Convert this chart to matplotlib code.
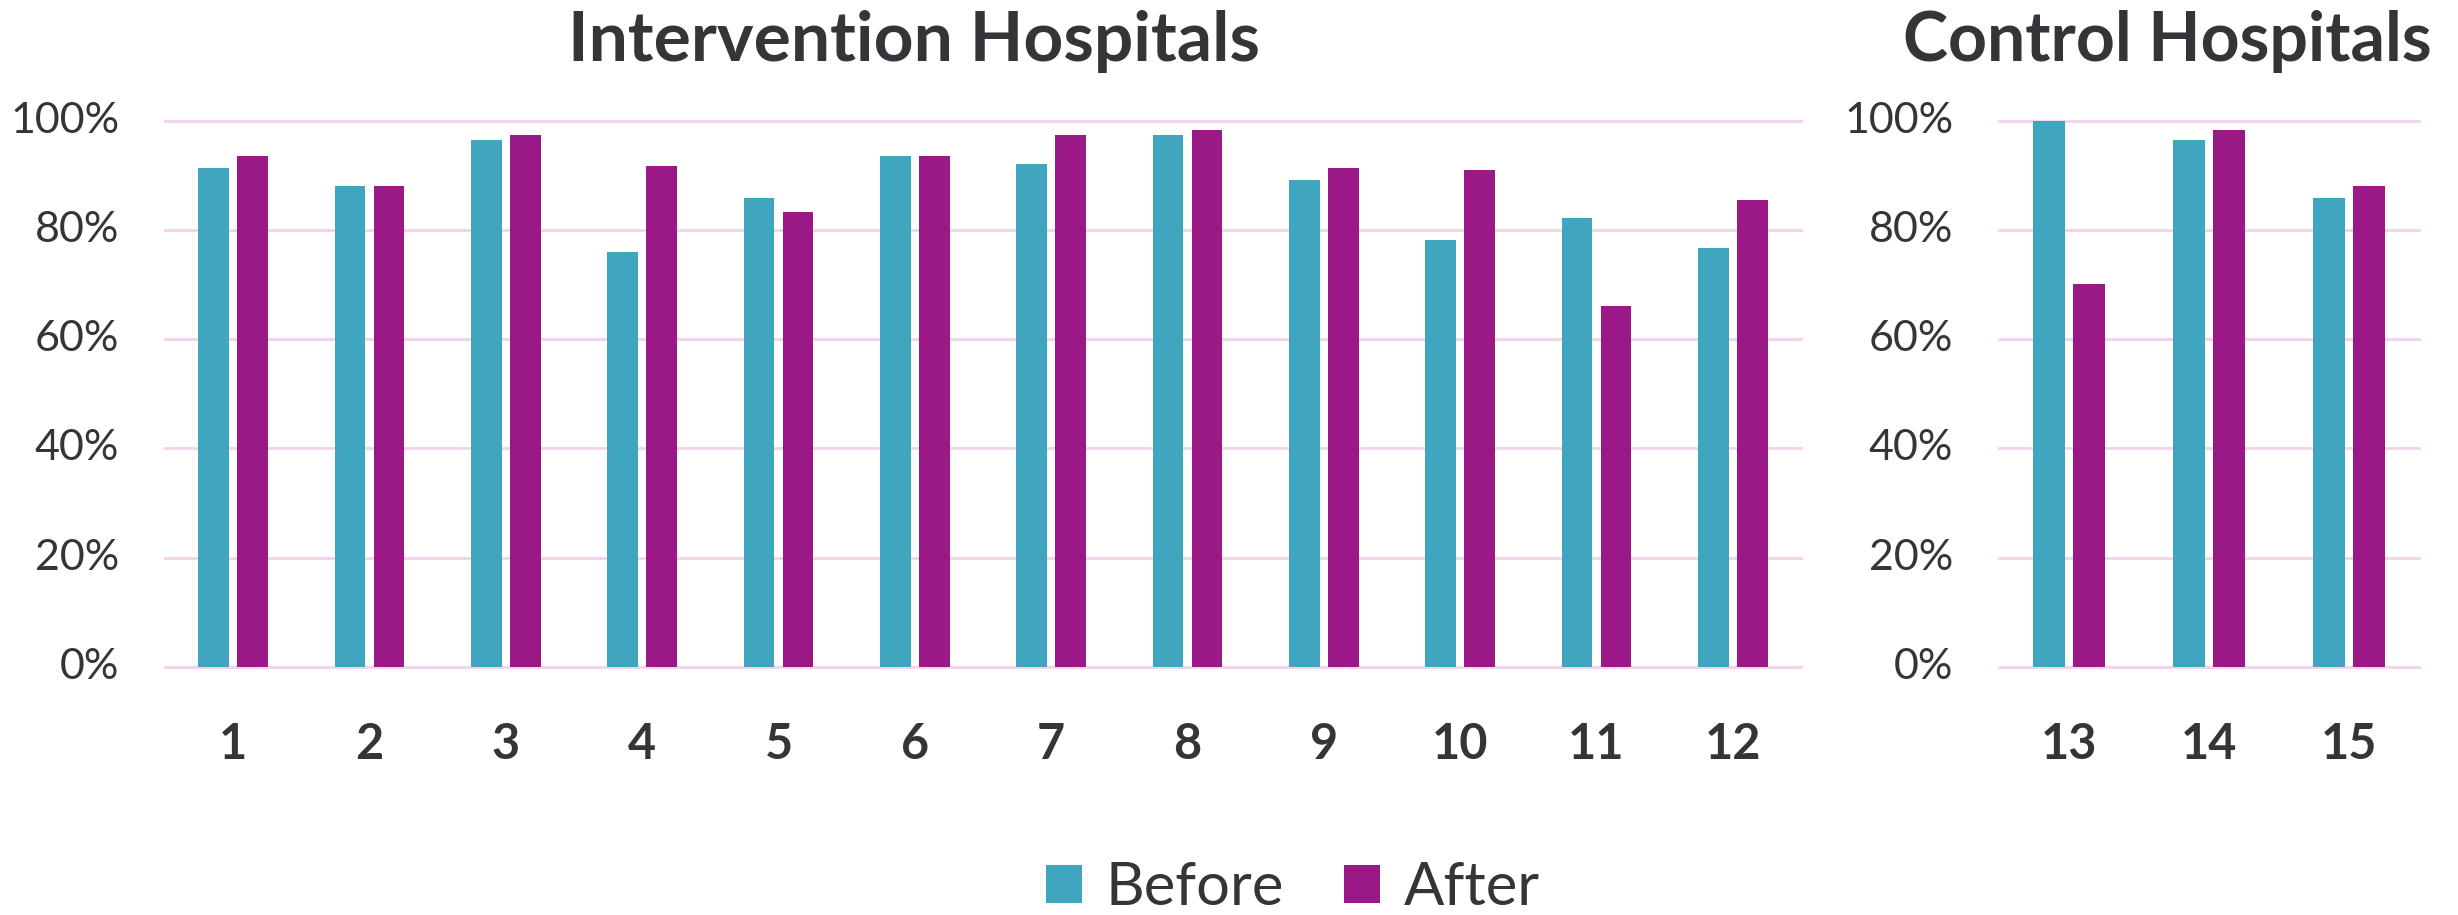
import matplotlib
matplotlib.use("Agg")
import matplotlib.pyplot as plt
from matplotlib.patches import Patch
import numpy as np

# ---- data ----
interv_labels = ["1", "2", "3", "4", "5", "6", "7", "8", "9", "10", "11", "12"]
interv_before = [0.914, 0.881, 0.965, 0.760, 0.859, 0.936, 0.921, 0.973, 0.892, 0.782, 0.822, 0.767]
interv_after = [0.936, 0.881, 0.973, 0.917, 0.833, 0.936, 0.973, 0.983, 0.914, 0.910, 0.661, 0.855]

ctrl_labels = ["13", "14", "15"]
ctrl_before = [0.999, 0.965, 0.859]
ctrl_after = [0.701, 0.983, 0.881]

y_ticks = [0, 0.2, 0.4, 0.6, 0.8, 1.0]
y_tick_labels = ["0%", "20%", "40%", "60%", "80%", "100%"]
series_names = ["Before", "After"]

# ---- style ----
C_BEFORE = "#40A6BF"
C_AFTER = "#9B1987"
C_GRID = "#F2D2EC"
C_TEXT = "#333538"
FONT = ["Lato", "DejaVu Sans"]
plt.rcParams["font.family"] = FONT

W, H = 2458, 915
fig = plt.figure(figsize=(W / 100, H / 100), dpi=100)

def px_axes(x0, x1, ytop, ybot):
    return fig.add_axes([x0 / W, 1 - ybot / H, (x1 - x0) / W, (ybot - ytop) / H])

ax1 = px_axes(165, 1801, 120.7, 666.7)
ax2 = px_axes(1999, 2419, 120.7, 666.7)

BW = 0.225
OFF = 0.143

def draw(ax, labels, before, after):
    x = np.arange(len(labels))
    ax.bar(x - OFF, before, width=BW, color=C_BEFORE, zorder=2)
    ax.bar(x + OFF, after, width=BW, color=C_AFTER, zorder=2)
    ax.set_xlim(-0.5, len(labels) - 0.5)
    ax.set_ylim(0, 1.0)
    for t in y_ticks:
        ax.axhline(t, color=C_GRID, lw=2, zorder=1, clip_on=False)
    for s in ax.spines.values():
        s.set_visible(False)
    ax.set_xticks(x)
    ax.set_xticklabels(labels, fontsize=35, fontweight="bold", color=C_TEXT)
    ax.set_yticks(y_ticks)
    ax.set_yticklabels(y_tick_labels, fontsize=31, color=C_TEXT, va="center")
    ax.tick_params(axis="x", length=0, pad=40)
    ax.tick_params(axis="y", length=0, pad=33)

draw(ax1, interv_labels, interv_before, interv_after)
draw(ax2, ctrl_labels, ctrl_before, ctrl_after)

fig.text(914 / W, 1 - 61 / H, "Intervention Hospitals", fontsize=50, fontweight="bold",
         color=C_TEXT, ha="center", va="baseline")
fig.text(2167 / W, 1 - 61 / H, "Control Hospitals", fontsize=49, fontweight="bold",
         color=C_TEXT, ha="center", va="baseline")

handles = [Patch(facecolor=C_BEFORE), Patch(facecolor=C_AFTER)]
fig.legend(handles, series_names, loc="center", bbox_to_anchor=(1293 / W, 1 - 888 / H),
           ncol=2, frameon=False, fontsize=43, handlelength=0.6, handleheight=0.6,
           handletextpad=0.4, columnspacing=1.0, labelcolor=C_TEXT, borderpad=0, borderaxespad=0)

fig.savefig("out.png", dpi=100)
